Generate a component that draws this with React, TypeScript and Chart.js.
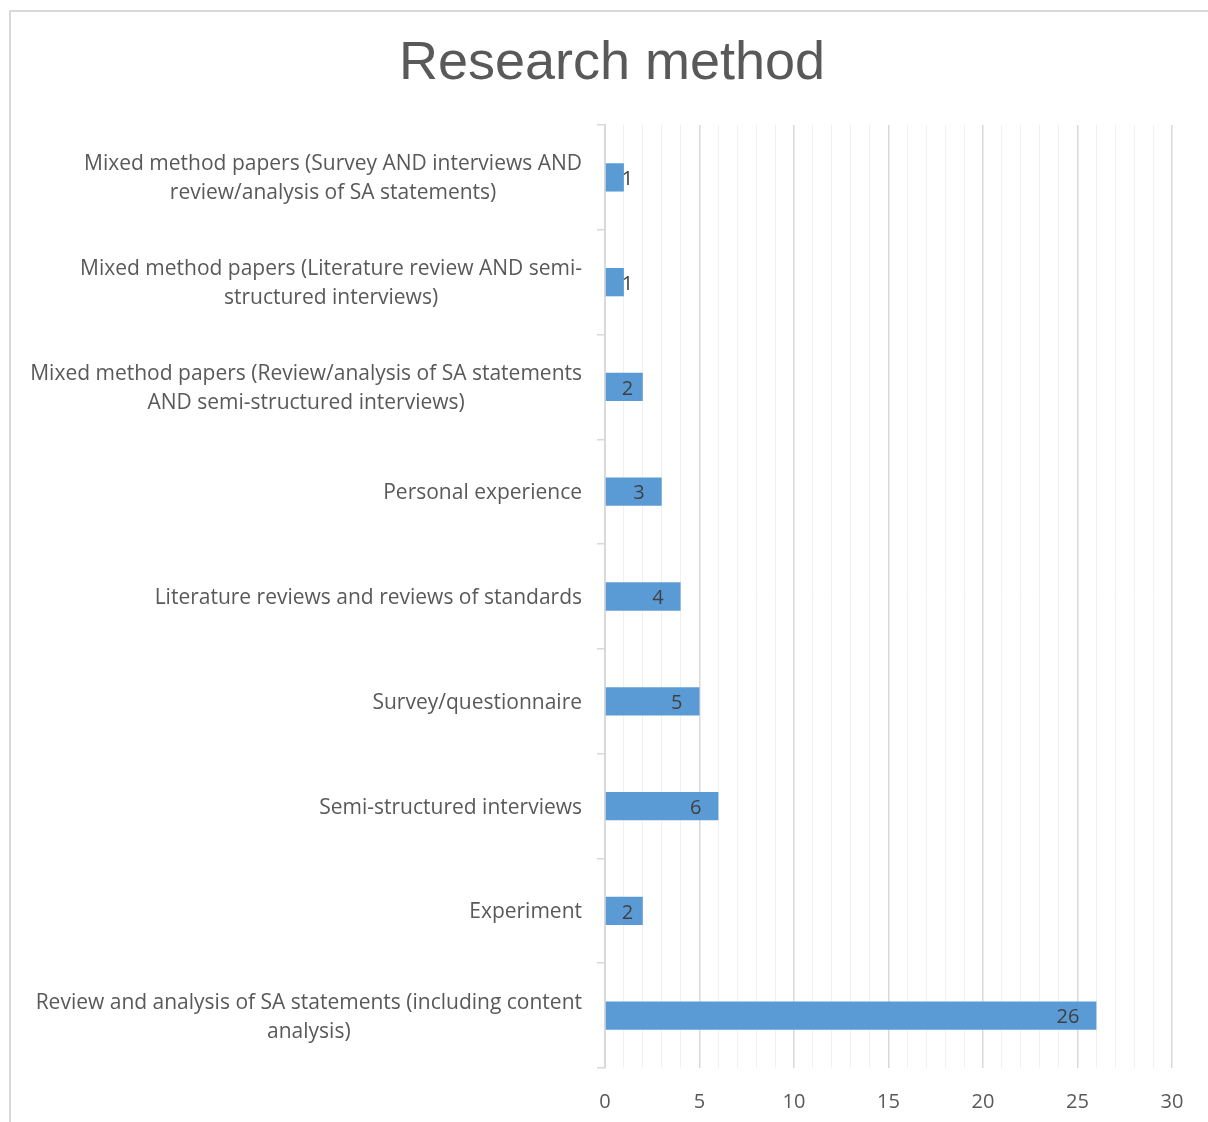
import React, { useEffect, useRef } from "react";
import { Chart, registerables } from "chart.js";

Chart.register(...registerables);

const chartTitle = "Research method";
const categories: string[][] = [
  ["Mixed method papers (Survey AND interviews AND", "review/analysis of SA statements)"],
  ["Mixed method papers (Literature review AND semi-", "structured interviews)"],
  ["Mixed method papers (Review/analysis of SA statements", "AND semi-structured interviews)"],
  ["Personal experience"],
  ["Literature reviews and reviews of standards"],
  ["Survey/questionnaire"],
  ["Semi-structured interviews"],
  ["Experiment"],
  ["Review and analysis of SA statements (including content", "analysis)"],
];
const counts: number[] = [1, 1, 2, 3, 4, 5, 6, 2, 26];
const xMin = 0;
const xMax = 30;
const xLabelStep = 5;

const FONT = "'Open Sans', Lato, sans-serif";

export default function App() {
  const ref = useRef<HTMLCanvasElement | null>(null);
  useEffect(() => {
    document.body.style.margin = "0";
    document.body.style.overflow = "hidden";
    const canvas = ref.current!;
    const framePlugin = {
      id: "frame",
      beforeDraw(chart: any) {
        const c = chart.ctx;
        c.save();
        c.fillStyle = "#ffffff";
        c.fillRect(0, 0, chart.width, chart.height);
        c.strokeStyle = "#d9d9d9";
        c.lineWidth = 2;
        c.strokeRect(10, 11, chart.width + 50, chart.height + 50);
        c.restore();
      },
      afterDraw(chart: any) {
        const c = chart.ctx;
        c.save();
        c.fillStyle = "#595959";
        c.font = "54px 'Liberation Sans', Arial, sans-serif";
        c.textAlign = "center";
        c.textBaseline = "middle";
        c.fillText(chartTitle, 612, 64);
        // category labels: block right-aligned, lines centered within block
        const yScale = chart.scales.y;
        c.fillStyle = "#595959";
        c.font = "21px " + FONT;
        const right = 582;
        const lh = 29;
        categories.forEach((lines, i) => {
          const cy = yScale.getPixelForValue(i) + 1.5;
          const maxW = Math.max(...lines.map((l) => c.measureText(l).width));
          const cx = right - maxW / 2;
          const y0 = cy - ((lines.length - 1) * lh) / 2;
          lines.forEach((l, j) => {
            c.fillText(l, cx, y0 + j * lh);
          });
        });
        c.restore();
      },
    };
    const labelPlugin = {
      id: "valueLabels",
      afterDatasetsDraw(chart: any) {
        const c = chart.ctx;
        const meta = chart.getDatasetMeta(0);
        c.save();
        c.fillStyle = "#404040";
        c.font = "20px " + FONT;
        c.textBaseline = "middle";
        c.textAlign = "left";
        meta.data.forEach((bar: any, i: number) => {
          const txt = String(counts[i]);
          const w = c.measureText(txt).width;
          const x = Math.max(bar.x - 17 - w, bar.base + 16);
          c.fillText(txt, x, bar.y + 2);
        });
        c.restore();
      },
    };
    const chart = new Chart(canvas, {
      type: "bar",
      data: {
        labels: categories,
        datasets: [
          {
            data: counts,
            backgroundColor: "#5b9bd5",
            borderColor: "#5b9bd5",
            borderWidth: 0,
            categoryPercentage: 1,
            barPercentage: 0.27,
          },
        ],
      },
      options: {
        indexAxis: "y",
        responsive: false,
        animation: false,
        layout: { padding: { top: 125, right: 36, left: 0, bottom: 0 } },
        plugins: {
          legend: { display: false },
          title: { display: false },
          tooltip: { enabled: false },
        },
        scales: {
          x: {
            min: xMin,
            max: xMax,
            border: { display: false },
            grid: {
              drawTicks: false,
              color: (ctx: any) => (ctx.tick && ctx.tick.value % xLabelStep === 0 ? "#d9d9d9" : "#f0f0f0"),
              lineWidth: (ctx: any) => (ctx.tick && ctx.tick.value % xLabelStep === 0 ? 1.5 : 1),
            },
            ticks: {
              stepSize: 1,
              autoSkip: false,
              maxRotation: 0,
              padding: 22,
              color: "#595959",
              font: { family: FONT, size: 20 },
              callback: (v: any) => (Number(v) % xLabelStep === 0 ? String(v) : ""),
            },
            afterFit: (s: any) => {
              s.height = 54;
            },
          },
          y: {
            border: { display: true, color: "#d9d9d9", width: 2 },
            grid: {
              drawOnChartArea: false,
              drawTicks: true,
              tickLength: 8,
              color: "#d9d9d9",
              lineWidth: 1.5,
              offset: true,
            },
            ticks: {
              display: false,
              autoSkip: false,
            },
            afterFit: (s: any) => {
              s.width = 605;
            },
          },
        },
      },
      plugins: [framePlugin, labelPlugin],
    });
    return () => chart.destroy();
  }, []);
  return (
    <div style={{ position: "fixed", left: 0, top: 0, width: 1208, height: 1122 }}>
      <canvas ref={ref} width={1208} height={1122} />
    </div>
  );
}
